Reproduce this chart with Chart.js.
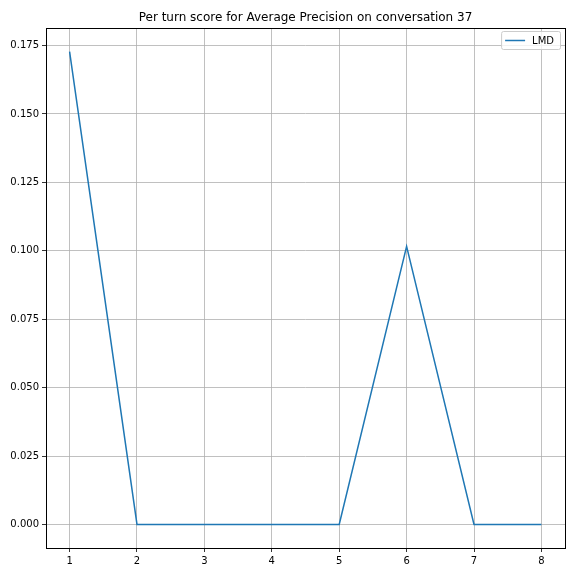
<!DOCTYPE html>
<html>
<head>
<meta charset="utf-8">
<script src="https://cdn.jsdelivr.net/npm/chart.js@4"></script>
<style>
  html, body { margin: 0; padding: 0; background: #fff; }
  #wrap { width: 576px; height: 576px; }
</style>
</head>
<body>
<div id="wrap"><canvas id="chart" width="576" height="576"></canvas></div>
<script>
// data
var turns = [1, 2, 3, 4, 5, 6, 7, 8];
var lmdScores = [0.1728, 0, 0, 0, 0, 0.1016, 0, 0];
var xTicks = [1, 2, 3, 4, 5, 6, 7, 8];
var yTicks = [0, 0.025, 0.05, 0.075, 0.1, 0.125, 0.15, 0.175];

var FONT = "'DejaVu Sans', sans-serif";

/* frame around the plot + legend box in the top right */
var framePlugin = {
    id: "frame",
    afterDraw: function (chart) {
        var a = chart.chartArea;
        var ctx = chart.ctx;
        ctx.save();
        ctx.strokeStyle = "#000";
        ctx.lineWidth = 1;
        ctx.strokeRect(Math.round(a.left) + 0.5, Math.round(a.top) + 0.5,
            Math.round(a.right - a.left), Math.round(a.bottom - a.top));

        // legend
        var ds = chart.data.datasets[0];
        ctx.font = "10px " + FONT;
        var tw = ctx.measureText(ds.label).width;
        var w = 31 + tw + 6, h = 18;
        var x = a.right - 5 - w, y = a.top + 3;
        ctx.fillStyle = "rgba(255,255,255,0.8)";
        ctx.strokeStyle = "#cccccc";
        ctx.beginPath();
        ctx.roundRect(x + 0.5, y + 0.5, w, h, 2);
        ctx.fill();
        ctx.stroke();
        ctx.strokeStyle = ds.borderColor;
        ctx.lineWidth = 1.5;
        ctx.beginPath();
        ctx.moveTo(x + 4, y + h / 2 + 0.5);
        ctx.lineTo(x + 24, y + h / 2 + 0.5);
        ctx.stroke();
        ctx.fillStyle = "#000";
        ctx.textBaseline = "middle";
        ctx.fillText(ds.label, x + 31, y + h / 2 + 1);
        ctx.restore();
    }
};

new Chart(document.getElementById("chart"), {
    type: "line",
    data: {
        labels: turns,
        datasets: [{
            label: "LMD",
            data: turns.map(function (t, i) { return { x: t, y: lmdScores[i] }; }),
            borderColor: "#1f77b4",
            borderWidth: 1.5,
            pointRadius: 0,
            tension: 0,
            fill: false
        }]
    },
    options: {
        responsive: false,
        animation: false,
        devicePixelRatio: 1,
        layout: { padding: { left: 0, right: 11, top: 0, bottom: 0 } },
        plugins: {
            legend: { display: false },
            tooltip: { enabled: false },
            title: {
                display: true,
                fullSize: false,
                text: "Per turn score for Average Precision on conversation 37",
                color: "#000",
                font: { family: FONT, size: 12, weight: "normal" },
                padding: { top: 11, bottom: 2.6 }
            }
        },
        scales: {
            x: {
                type: "linear",
                min: 0.65,
                max: 8.35,
                afterBuildTicks: function (s) {
                    s.ticks = xTicks.map(function (v) { return { value: v }; });
                },
                afterFit: function (s) { s.height = 28; },
                grid: { color: "#b0b0b0", lineWidth: 0.8, tickColor: "#000", tickLength: 4 },
                border: { display: false },
                ticks: {
                    color: "#000",
                    font: { family: FONT, size: 10 },
                    padding: 3,
                    maxRotation: 0,
                    callback: function (v) { return String(v); }
                }
            },
            y: {
                min: -0.0086,
                max: 0.1814,
                afterBuildTicks: function (s) {
                    s.ticks = yTicks.map(function (v) { return { value: v }; });
                },
                afterFit: function (s) { s.width = 46; },
                grid: { color: "#b0b0b0", lineWidth: 0.8, tickColor: "#000", tickLength: 4 },
                border: { display: false },
                ticks: {
                    color: "#000",
                    font: { family: FONT, size: 10 },
                    padding: 3,
                    callback: function (v) { return v.toFixed(3); }
                }
            }
        }
    },
    plugins: [framePlugin]
});
</script>
</body>
</html>
